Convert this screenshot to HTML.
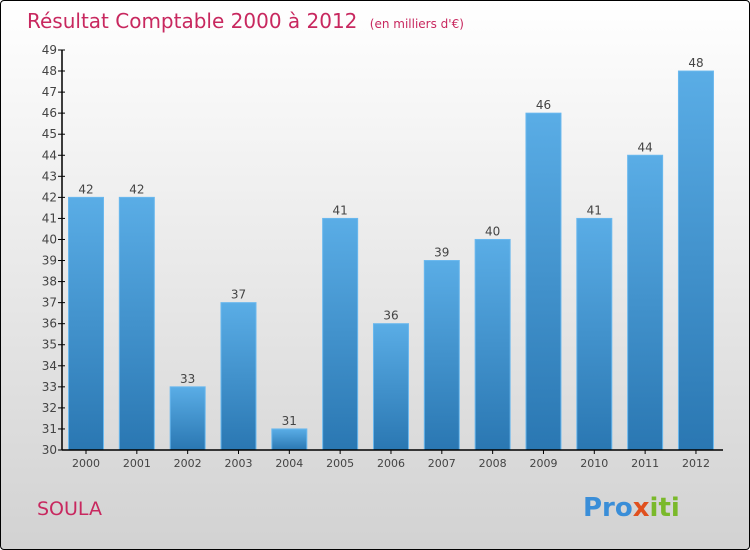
<!DOCTYPE html>
<html><head><meta charset="utf-8"><style>
body{margin:0;}
#c{position:relative;width:748px;height:548px;border:1px solid #000;border-radius:4px;background:linear-gradient(#ffffff,#d2d2d2);overflow:hidden;font-family:"DejaVu Sans","Liberation Sans",sans-serif;}
</style></head><body>
<div id="c">
<svg id="s" width="748" height="548">
<defs><linearGradient id="g" x1="0" y1="0" x2="0" y2="1"><stop offset="0" stop-color="#5aade6"/><stop offset="1" stop-color="#2a77b2"/></linearGradient></defs>
<text x="26" y="27" font-size="20" fill="#c8285f">Résultat Comptable 2000 à 2012 <tspan font-size="12" dx="6">(en milliers d'€)</tspan></text>
<text x="36" y="514" font-size="19" fill="#c8285f">SOULA</text>
<text x="582" y="515" font-size="26" font-weight="bold" fill="#3a8ed8">Pro<tspan fill="#e0501e">x</tspan><tspan fill="#7ab92a">iti</tspan></text>
<g id="plot"></g>
</svg></div>
<script>
const categories=["2000","2001","2002","2003","2004","2005","2006","2007","2008","2009","2010","2011","2012"];
const values=[42,42,33,37,31,41,36,39,40,46,41,44,48];
const yTicks=[30,31,32,33,34,35,36,37,38,39,40,41,42,43,44,45,46,47,48,49];
const ns="http://www.w3.org/2000/svg";
const g=document.getElementById('plot');
const x0=61,x1=722,yb=449,yt=49,ymin=30,ymax=49;
const y=v=>yb-(v-ymin)*(yb-yt)/(ymax-ymin);
const step=50.83,first=85;
const xc=i=>first+i*step;
function el(t,a,txt){const e=document.createElementNS(ns,t);for(const k in a)e.setAttribute(k,a[k]);if(txt!==undefined)e.textContent=txt;g.appendChild(e);return e;}
values.forEach((v,i)=>{
 const b=el('rect',{x:xc(i)-17.5,y:y(v),width:35,height:yb-y(v),fill:'url(#g)',stroke:'#6ab8ee','stroke-width':1});
 
 
 const t=el('text',{x:xc(i),y:y(v)-4,'font-size':12,'text-anchor':'middle',fill:'#444'},String(v));
 
 
 const l=el('text',{x:xc(i),y:466,'font-size':11,'text-anchor':'middle',fill:'#444'},categories[i]);
 
 
 const tk=el('line',{x1:xc(i),x2:xc(i),y1:yb,y2:yb+4,stroke:'#000'});
 
 
});
yTicks.forEach(v=>{
 const tk=el('line',{x1:x0-4,x2:x0+3,y1:y(v),y2:y(v),stroke:'#000'});
 
 
 const t=el('text',{x:x0-5,y:y(v)+4,'font-size':12,'text-anchor':'end',fill:'#444'},String(v));
 
 
});
const ya=el('line',{x1:x0,x2:x0,y1:yt,y2:yb,stroke:'#000','stroke-width':1.5});


const xa=el('line',{x1:x0,x2:x1,y1:yb,y2:yb,stroke:'#000','stroke-width':1.5});


</script>
</body></html>
